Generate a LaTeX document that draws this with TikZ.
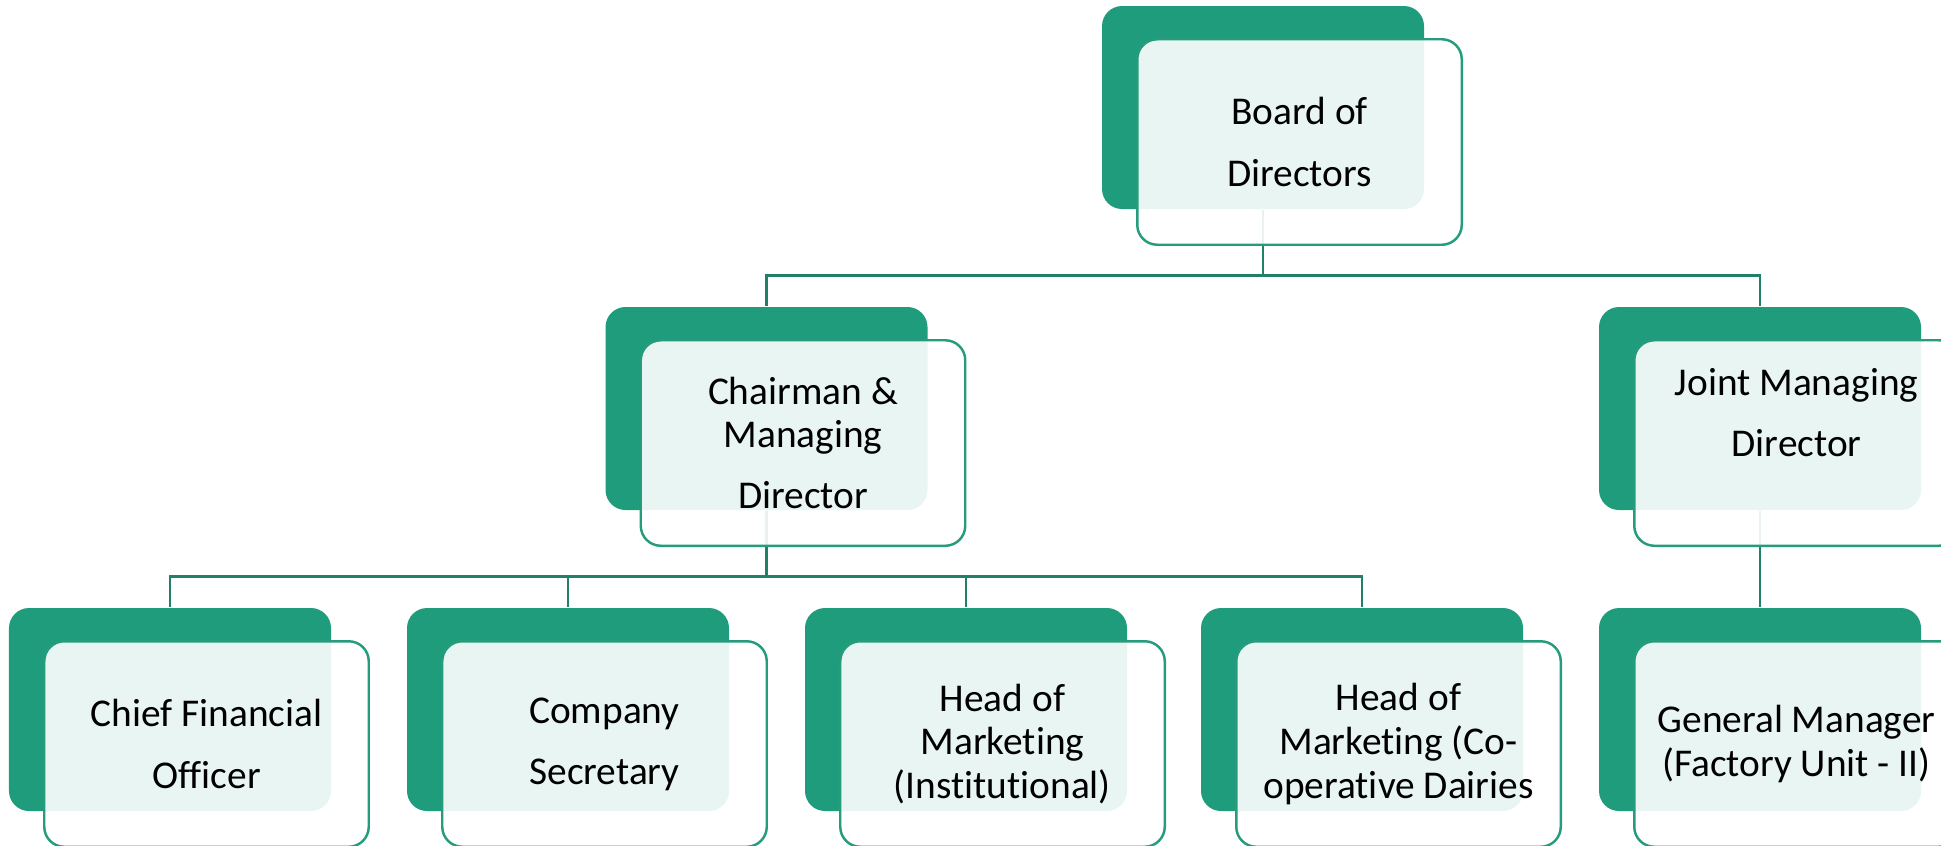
\documentclass[tikz,border=0pt]{standalone}
\usepackage{fontspec}
\setmainfont[Ligatures=NoCommon]{Carlito}
\usepackage{tikz}

\definecolor{orggreen}{RGB}{31,156,123}
\definecolor{orgline}{RGB}{32,128,104}
\definecolor{orgedge}{RGB}{38,156,125}

\tikzset{
  back/.style={shape=rectangle, fill=orggreen, rounded corners=0.2cm, minimum width=3.22cm, minimum height=2.03cm, inner sep=0pt},
  front/.style={shape=rectangle, draw=orgedge, line width=0.7pt, fill=white, fill opacity=0.9, text opacity=1, rounded corners=0.2cm, minimum width=3.245cm, minimum height=2.055cm, inner sep=0pt, align=center, font=\fontsize{11.2}{17.4}\selectfont},
  tight/.style={font=\fontsize{11.2}{12.5}\selectfont},
  link/.style={draw=orgline, line width=0.75pt}
}

\begin{document}
\begin{tikzpicture}
      \useasboundingbox (0,0) rectangle (19.41,-8.45);
      \clip (0,0) rectangle (19.41,-8.45);
      % back boxes
      \node (bod) [back] at (12.63,-1.075) {};
      \node (cmd) [back] at (7.665,-4.085) {};
      \node (jmd) [back] at (17.60,-4.085) {};
      \node (cfo) [back] at (1.70,-7.095) {};
      \node (cs) [back] at (5.68,-7.095) {};
      \node (hmi) [back] at (9.66,-7.095) {};
      \node (hmc) [back] at (13.62,-7.095) {};
      \node (gm) [back] at (17.60,-7.095) {};
      % connectors, under the front boxes
      \coordinate (bus1) at ([yshift=-6.6mm]bod.south);
      \coordinate (bus2) at ([yshift=-6.6mm]cmd.south);
      \draw [link] (bod.south) -- (bus1);
      \draw [link] (bus1) -| (cmd.north);
      \draw [link] (bus1) -| (jmd.north);
      \draw [link] (cmd.south) -- (bus2);
      \foreach \n in {cfo,cs,hmi,hmc}
        \draw [link] (bus2) -| (\n.north);
      \draw [link] (jmd.south) -- (gm.north);
      % front boxes
      \node (bodf) [front] at ([xshift=3.65mm,yshift=-3.45mm]bod.center) {Board of\\Directors};
      \node (cmdf) [front] at ([xshift=3.65mm,yshift=-3.45mm]cmd.center) {Chairman \&\\[-5.2pt]Managing\\Director};
      \node (jmdf) [front] at ([xshift=3.65mm,yshift=-3.45mm]jmd.center) {Joint Managing\\Director\\\mbox{}};
      \node (cfof) [front] at ([xshift=3.65mm,yshift=-3.45mm]cfo.center) {Chief Financial\\Officer};
      \node (csf) [front] at ([xshift=3.65mm,yshift=-3.45mm]cs.center) {Company\\Secretary};
      \node (hmif) [front, tight] at ([xshift=3.65mm,yshift=-3.45mm]hmi.center) {Head of\\Marketing\\(Institutional)};
      \node (hmcf) [front, tight] at ([xshift=3.65mm,yshift=-3.45mm]hmc.center) {Head of\\Marketing (Co-\\operative Dairies};
      \node (gmf) [front, tight] at ([xshift=3.65mm,yshift=-3.45mm]gm.center) {General Manager\\(Factory Unit - II)};
    \end{tikzpicture}
\end{document}
